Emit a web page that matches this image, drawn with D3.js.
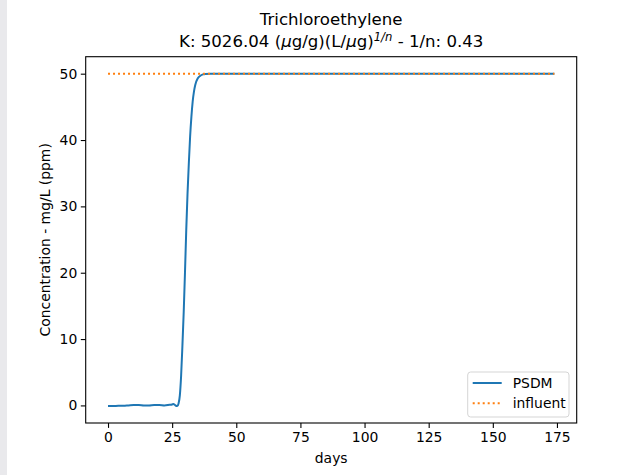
<!DOCTYPE html>
<html>
<head>
<meta charset="utf-8">
<script src="https://cdn.jsdelivr.net/npm/d3@7"></script>
<style>
  body { margin: 0; background: #fff; }
  svg { display: block; font-family: "DejaVu Sans", sans-serif; }
</style>
</head>
<body>
<div id="chart"></div>
<script>
// data
const days = [0, 2, 4, 6, 8, 10, 12, 14, 16, 18, 20, 22, 24, 25, 25.5, 26, 26.5, 27, 27.5,
    28, 28.5, 29, 29.5, 30, 30.5, 31, 31.5, 32, 32.5, 33, 33.5, 34, 35, 36, 37, 38, 40,
    45, 50, 75, 100, 125, 150, 174];
const psdm = [-0.1, -0.1, -0.05, -0.05, 0.0, 0.05, 0.05, 0.0, 0.0, 0.05, 0.05, 0.0, 0.1, 0.15, 0.2, 0.1, -0.05, -0.1, 0.3,
    1.5, 4.5, 9, 14, 20, 26.5, 32, 36.5, 40.5, 43.5, 45.8, 47.3, 48.3, 49.3, 49.7, 49.9, 49.97, 50,
    50, 50, 50, 50, 50, 50, 50];
const influentDays = [0, 174];
const influent = [50, 50];
const xTicks = [0, 25, 50, 75, 100, 125, 150, 175];
const yTicks = [0, 10, 20, 30, 40, 50];
const seriesNames = ["PSDM", "influent"];

const width = 636, height = 475;
const margin = {top: 56.7, right: 59.3, bottom: 52, left: 85.7};
const plot_w = width - margin.left - margin.right,
      plot_h = height - margin.top - margin.bottom;

const svg = d3.select("#chart").append("svg")
    .attr("width", width)
    .attr("height", height);

// grey strip on the left edge of the screenshot
svg.append("rect").attr("x", 0).attr("y", 0).attr("width", 7).attr("height", height)
    .attr("fill", "#e9e9ec");

const g = svg.append("g")
    .attr("transform", "translate(" + margin.left + "," + margin.top + ")");

let x = d3.scaleLinear().domain([-8.7, 182.7]).range([0, plot_w]);
let y = d3.scaleLinear().domain([-2.65, 52.56]).range([plot_h, 0]);

// axes
const xAxis = g.append("g")
    .attr("transform", "translate(0," + plot_h + ")")
    .call(d3.axisBottom(x).tickValues(xTicks).tickSize(4.9).tickPadding(3.5));
const yAxis = g.append("g")
    .call(d3.axisLeft(y).tickValues(yTicks).tickSize(4.9).tickPadding(3.5));
[xAxis, yAxis].forEach(function(a) {
    a.select(".domain").remove();
    a.selectAll("line").attr("stroke", "#000").attr("stroke-width", 1.1);
    a.selectAll("text").attr("font-family", "DejaVu Sans").attr("font-size", "13.9px").attr("fill", "#000");
});
xAxis.selectAll("text").attr("dy", "0.75em");

// lines
const line = d3.line()
    .x(function(d) { return x(d[0]); })
    .y(function(d) { return y(d[1]); })
    .curve(d3.curveMonotoneX);

g.append("path")
    .datum(d3.zip(days, psdm))
    .attr("d", line)
    .attr("fill", "none")
    .attr("stroke", "#1f77b4")
    .attr("stroke-width", 2);

g.append("path")
    .datum(d3.zip(influentDays, influent))
    .attr("d", line)
    .attr("fill", "none")
    .attr("stroke", "#ff7f0e")
    .attr("stroke-width", 2)
    .attr("stroke-dasharray", "2,3");

// frame
g.append("rect")
    .attr("width", plot_w).attr("height", plot_h)
    .attr("fill", "none").attr("stroke", "#000").attr("stroke-width", 1.1);

// title, two separate lines
const cx = margin.left + plot_w / 2;
svg.append("text")
    .attr("x", cx).attr("y", 25)
    .attr("text-anchor", "middle").attr("font-size", "16.6px").attr("fill", "#000")
    .text("Trichloroethylene");
const t2 = svg.append("text")
    .attr("x", cx).attr("y", 47)
    .attr("text-anchor", "middle").attr("font-size", "16.6px").attr("fill", "#000");
t2.append("tspan").text("K: 5026.04 (");
t2.append("tspan").attr("font-style", "italic").text("μ");
t2.append("tspan").text("g/g)(L/");
t2.append("tspan").attr("font-style", "italic").text("μ");
t2.append("tspan").text("g)");
t2.append("tspan").attr("font-size", "11.6px").attr("font-style", "italic").attr("dy", "-6").text("1/n");
t2.append("tspan").attr("dy", "6").text(" - 1/n: 0.43");

// axis labels
svg.append("text")
    .attr("x", cx).attr("y", 463)
    .attr("text-anchor", "middle").attr("font-size", "13.9px").attr("fill", "#000")
    .text("days");
svg.append("text")
    .attr("transform", "translate(50," + (margin.top + plot_h / 2) + ") rotate(-90)")
    .attr("text-anchor", "middle").attr("font-size", "13.9px").attr("fill", "#000")
    .text("Concentration - mg/L (ppm)");

// legend
const legend = g.append("g")
    .attr("transform", "translate(" + (plot_w - 109) + "," + (plot_h - 51) + ")");
legend.append("rect")
    .attr("width", 101.3).attr("height", 45).attr("rx", 3)
    .attr("fill", "#fff").attr("fill-opacity", 0.8)
    .attr("stroke", "#d5d5d5").attr("stroke-width", 1);
const styles = [
    {color: "#1f77b4", dash: null},
    {color: "#ff7f0e", dash: "2,3"}
];
seriesNames.forEach(function(name, i) {
    const yy = 11 + i * 20.3;
    legend.append("line")
        .attr("x1", 5).attr("x2", 34).attr("y1", yy).attr("y2", yy)
        .attr("stroke", styles[i].color).attr("stroke-width", 2)
        .attr("stroke-dasharray", styles[i].dash);
    legend.append("text")
        .attr("x", 45).attr("y", yy).attr("dy", "0.35em")
        .attr("font-size", "13.9px").attr("fill", "#000")
        .text(name);
});
</script>
</body>
</html>
